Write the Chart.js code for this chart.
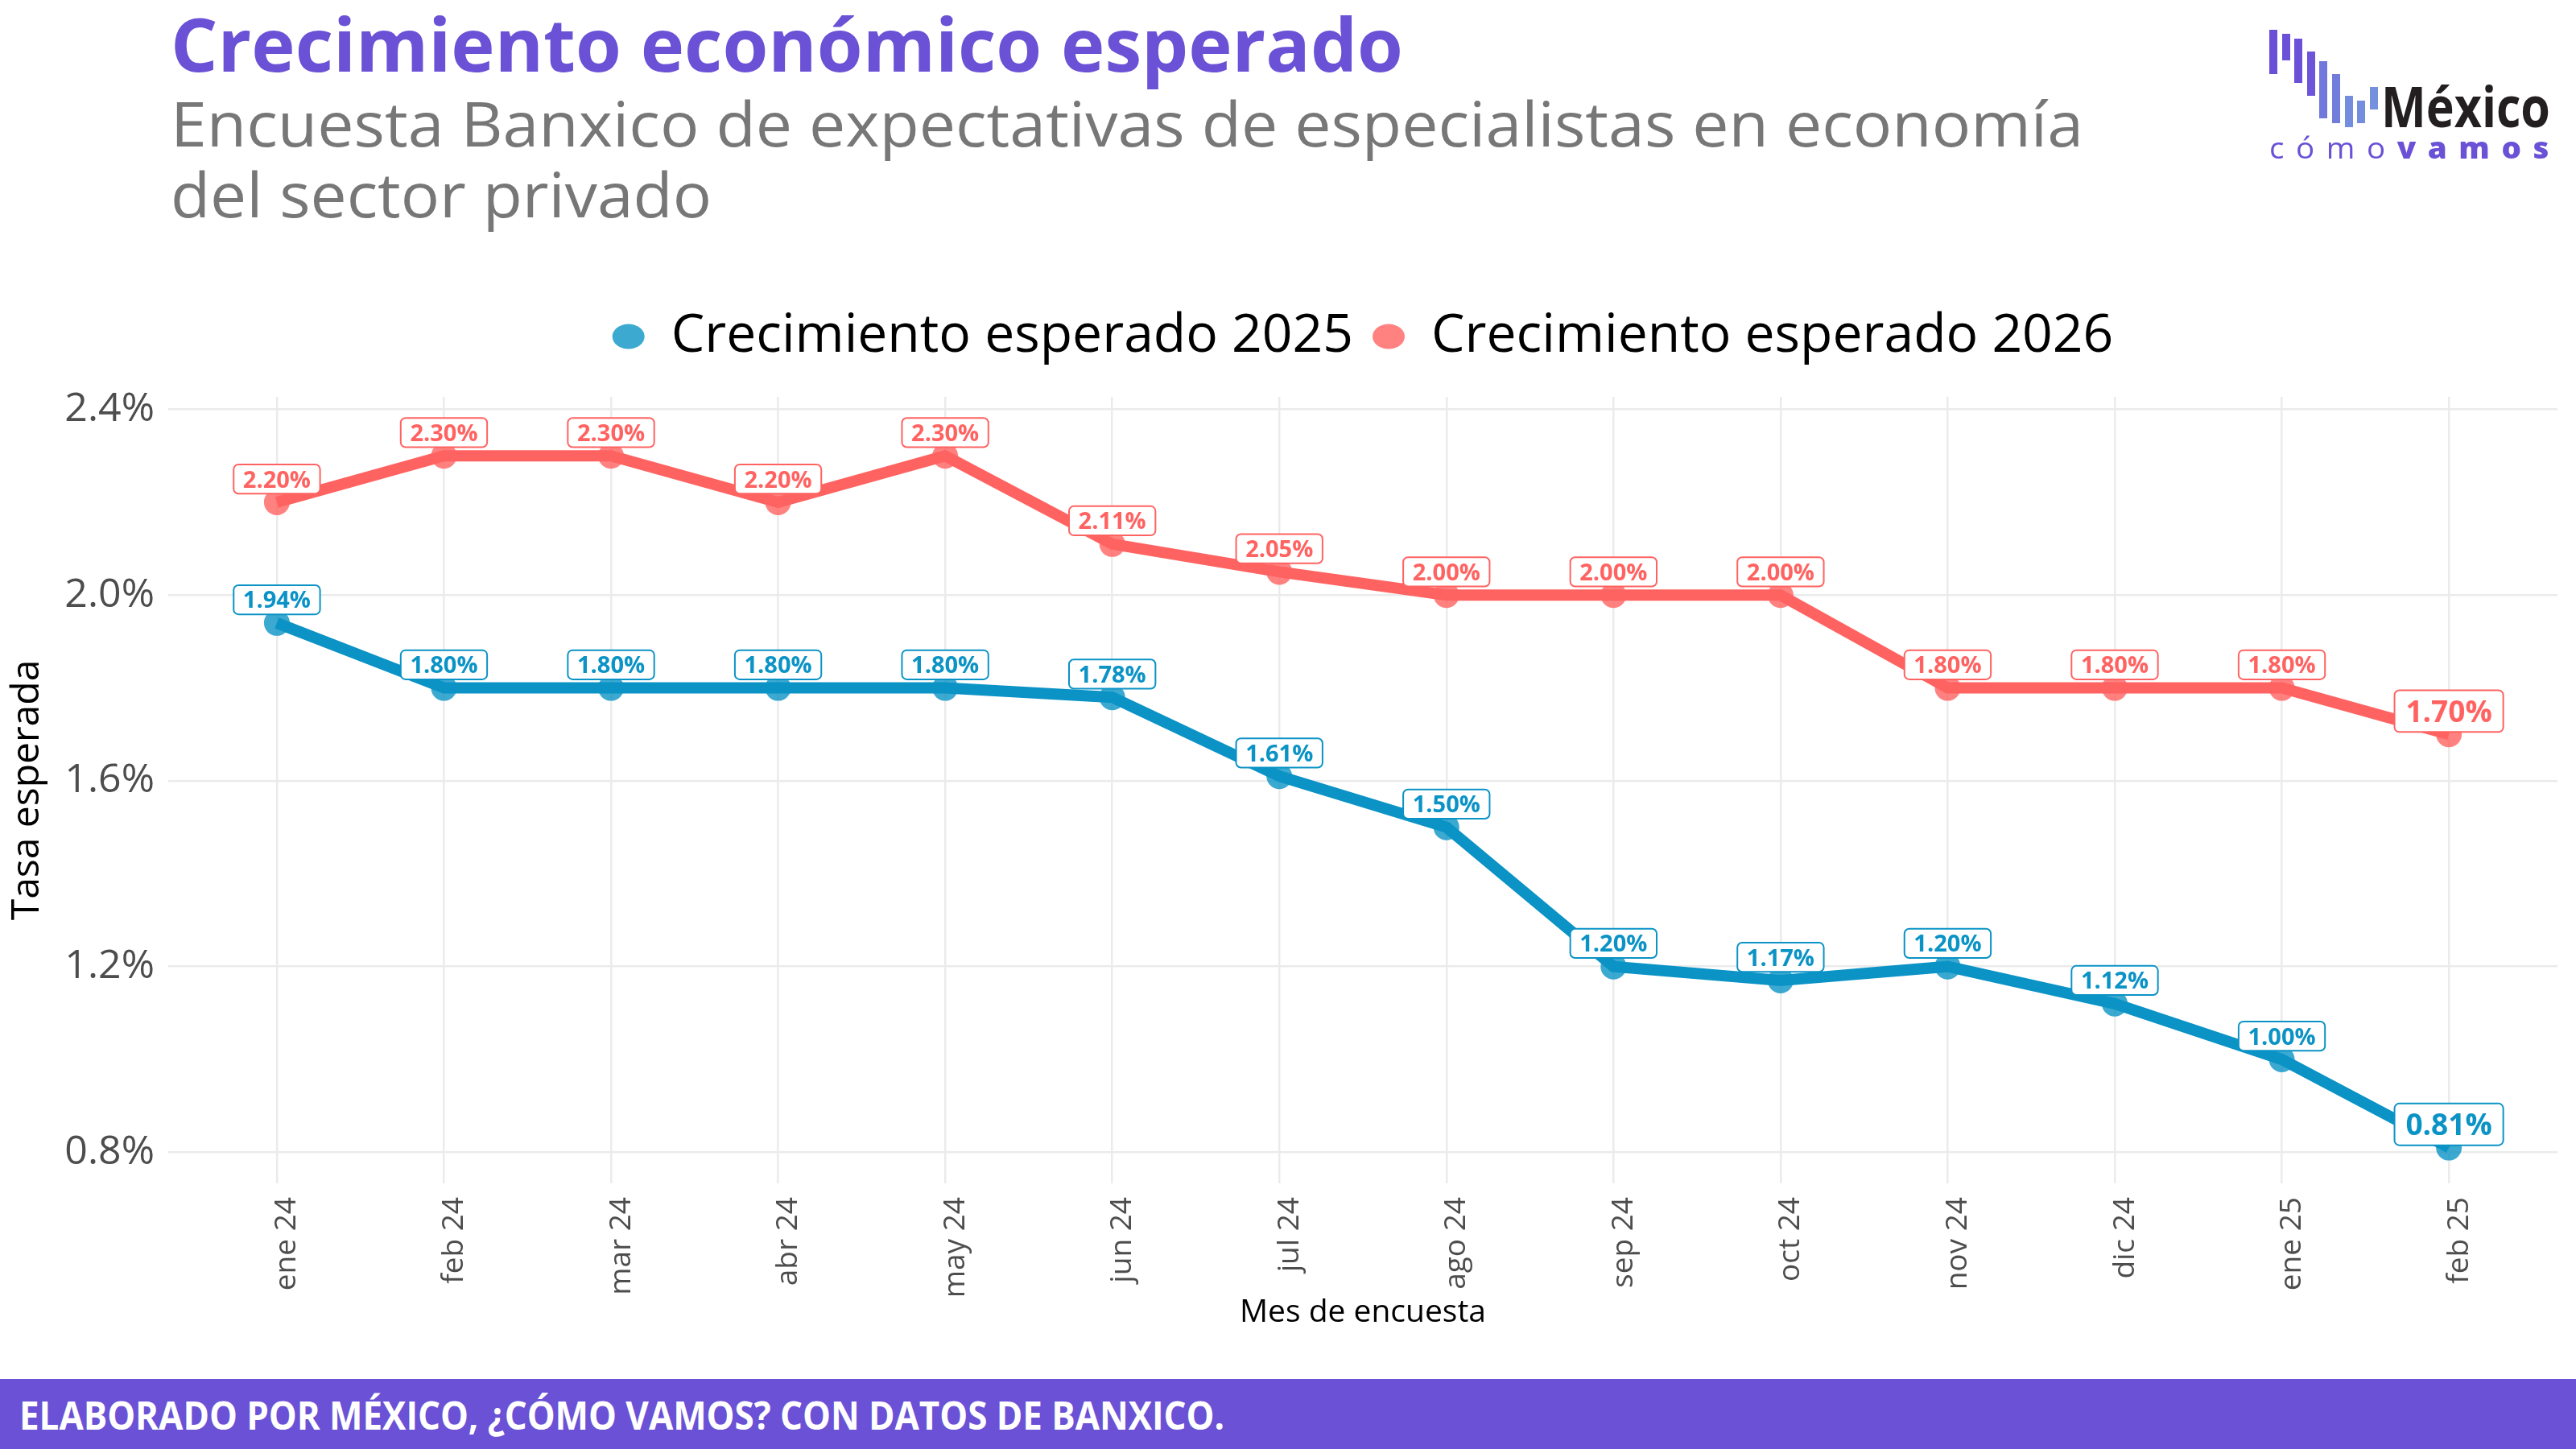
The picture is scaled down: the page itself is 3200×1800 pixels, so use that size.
<!DOCTYPE html>
<html>
<head>
<meta charset="utf-8">
<script src="https://cdn.jsdelivr.net/npm/chart.js@4.4.0/dist/chart.umd.min.js"></script>
<style>
    html, body { margin: 0; padding: 0; background: #fff; }
    body { width: 3200px; height: 1800px; position: relative; overflow: hidden; font-family: "Open Sans", sans-serif; }
    .fit { position: absolute; white-space: nowrap; transform-origin: 0 0; line-height: 1; }
    #title { left: 212px; top: 8px; font-size: 92px; font-weight: 700; color: #6a51d6; }
    #sub1 { left: 212px; top: 114px; font-size: 77px; color: #777777; }
    #sub2 { left: 212px; top: 202px; font-size: 77px; color: #777777; }
    #chartBox { position: absolute; left: 0; top: 0; width: 3200px; height: 1711px; }
    #footer { position: absolute; left: 0; top: 1713px; width: 3200px; height: 87px; background: #6a51d6; }
    #footText { left: 24px; top: 1734px; font-size: 48px; font-weight: 700; color: #fff; }
    .bar { position: absolute; width: 10px; }
    #logoMx { left: 2958px; top: 96px; font-size: 70px; font-weight: 700; color: #231f20; }
    #logoCv { left: 2819px; top: 164px; font-size: 37px; color: #6a51d6; letter-spacing: 14px; }
    #logoCv b { font-weight: 800; }
</style>
</head>
<body>
<div id="chartBox"><canvas id="growthChart"></canvas></div>

<div id="title" class="fit" data-w="1531">Crecimiento económico esperado</div>
<div id="sub1" class="fit" data-w="2376">Encuesta Banxico de expectativas de especialistas en economía</div>
<div id="sub2" class="fit" data-w="672">del sector privado</div>

<div id="logo"></div>
<div id="logoMx" class="fit" data-w="210">México</div>
<div id="logoCv" class="fit" data-w="362">cómo<b>vamos</b></div>

<div id="footer"></div>
<div id="footText" class="fit" data-w="1497">ELABORADO POR MÉXICO, ¿CÓMO VAMOS? CON DATOS DE BANXICO.</div>

<script>
// survey months and expected growth (%)
const months = ['ene 24', 'feb 24', 'mar 24', 'abr 24', 'may 24', 'jun 24', 'jul 24',
                'ago 24', 'sep 24', 'oct 24', 'nov 24', 'dic 24', 'ene 25', 'feb 25'];
const growth2025 = [1.94, 1.80, 1.80, 1.80, 1.80, 1.78, 1.61, 1.50, 1.20, 1.17, 1.20, 1.12, 1.00, 0.81];
const growth2026 = [2.20, 2.30, 2.30, 2.20, 2.30, 2.11, 2.05, 2.00, 2.00, 2.00, 1.80, 1.80, 1.80, 1.70];
const seriesNames = ['Crecimiento esperado 2025', 'Crecimiento esperado 2026'];
const yTicks = [0.8, 1.2, 1.6, 2.0, 2.4];

const BLUE = '#0b93c6';
const RED = '#ff6361';
const FONT = '"Open Sans", sans-serif';

// logo bars: left, top, bottom
const logoBars = [[2819, 37, 92], [2835, 42, 75], [2850, 48, 103], [2866, 64, 119], [2881, 76, 147],
                  [2897, 92, 153], [2913, 119, 158], [2928, 125, 153], [2944, 108, 136]];
const logoColors = ['#6a4fd8', '#6b50d8', '#6b51d8', '#6d55d9', '#7078db', '#717cdb', '#748ddd', '#748ddd', '#7490de'];
const logo = document.getElementById('logo');
logoBars.forEach((b, i) => {
    const d = document.createElement('div');
    d.className = 'bar';
    d.style.left = b[0] + 'px';
    d.style.top = b[1] + 'px';
    d.style.height = (b[2] - b[1]) + 'px';
    d.style.background = logoColors[i];
    logo.appendChild(d);
});

// squeeze the header/footer texts to the widths of the original (narrower typeface there)
document.querySelectorAll('.fit').forEach(el => {
    const w = el.getBoundingClientRect().width;
    el.style.transform = 'scaleX(' + (+el.dataset.w / w) + ')';
});

// legend: fixed height, centred over the plot panel
const legendPlace = {
    id: 'legendPlace',
    beforeUpdate(chart) {
        const lg = chart.legend;
        if (lg && !lg._patched) {
            const fit = lg.fit;
            lg.fit = function () { fit.call(this); this.height = 132; };
            lg._patched = true;
        }
    },
    afterLayout(chart) {
        const lg = chart.legend;
        const shift = (chart.chartArea.left + chart.chartArea.right) / 2 - (lg.left + lg.right) / 2;
        lg.left += shift;
        lg.right += shift;
    }
};

// boxed value labels above each point (last month bigger)
const valueLabels = {
    id: 'valueLabels',
    afterDatasetsDraw(chart) {
        const ctx = chart.ctx;
        const y = chart.scales.y;
        chart.data.datasets.forEach((ds, di) => {
            const meta = chart.getDatasetMeta(di);
            meta.data.forEach((pt, i) => {
                const v = ds.data[i].y;
                const last = i === ds.data.length - 1;
                const size = last ? 37 : 29;
                const text = v.toFixed(2) + '%';
                ctx.save();
                ctx.font = '700 ' + size + 'px ' + FONT;
                const tw = ctx.measureText(text).width;
                const w = tw + size * (last ? 0.75 : 0.8);
                const h = size * (last ? 1.4 : 1.25);
                const cx = pt.x;
                const cy = y.getPixelForValue(v + 0.05);
                ctx.beginPath();
                ctx.roundRect(cx - w / 2, cy - h / 2, w, h, 6);
                ctx.fillStyle = '#ffffff';
                ctx.fill();
                ctx.lineWidth = 2;
                ctx.strokeStyle = ds.borderColor;
                ctx.stroke();
                ctx.fillStyle = ds.borderColor;
                ctx.textAlign = 'center';
                ctx.textBaseline = 'alphabetic';
                ctx.fillText(text, cx, cy + size * 0.36);
                ctx.restore();
            });
        });
    }
};

const ctx = document.getElementById('growthChart').getContext('2d');
const chart = new Chart(ctx, {
    type: 'line',
    data: {
        datasets: [
            {
                label: seriesNames[0],
                data: growth2025.map((v, i) => ({ x: i, y: v })),
                borderColor: BLUE,
                backgroundColor: BLUE,
                borderWidth: 14,
                pointRadius: 16,
                pointBorderWidth: 0,
                pointBackgroundColor: 'rgba(11,147,198,0.8)',
                tension: 0
            },
            {
                label: seriesNames[1],
                data: growth2026.map((v, i) => ({ x: i, y: v })),
                borderColor: RED,
                backgroundColor: RED,
                borderWidth: 14,
                pointRadius: 16,
                pointBorderWidth: 0,
                pointBackgroundColor: 'rgba(255,99,97,0.8)',
                tension: 0
            }
        ]
    },
    options: {
        responsive: true,
        maintainAspectRatio: false,
        animation: false,
        layout: { padding: { top: 361, right: 23, left: 0, bottom: 0 } },
        plugins: {
            legend: {
                position: 'top',
                labels: {
                    font: { size: 66, family: FONT },
                    color: '#000',
                    usePointStyle: true,
                    pointStyle: 'circle',
                    pointStyleWidth: 40,
                    boxHeight: 22,
                    padding: 24
                }
            },
            tooltip: { enabled: false }
        },
        scales: {
            x: {
                type: 'linear',
                min: -0.65,
                max: 13.65,
                afterBuildTicks: s => { s.ticks = months.map((m, i) => ({ value: i })); },
                afterFit: s => { s.height = 241; },
                ticks: {
                    callback: v => months[v],
                    autoSkip: false,
                    minRotation: 90,
                    maxRotation: 90,
                    labelOffset: 13,
                    font: { size: 37, family: FONT },
                    color: '#4d4d4d',
                    padding: 17
                },
                grid: { color: '#ebebeb', lineWidth: 2.5, drawTicks: false },
                border: { display: false },
                title: {
                    display: true,
                    text: 'Mes de encuesta',
                    font: { size: 39, family: FONT },
                    color: '#000',
                    padding: { top: 0, bottom: 57 }
                }
            },
            y: {
                min: 0.733,
                max: 2.427,
                afterBuildTicks: s => { s.ticks = yTicks.map(v => ({ value: v })); },
                afterFit: s => { s.width = 209; },
                ticks: {
                    callback: v => v.toFixed(1) + '%',
                    font: { size: 50, family: FONT },
                    color: '#4d4d4d',
                    padding: 17
                },
                grid: { color: '#ebebeb', lineWidth: 2.5, drawTicks: false },
                border: { display: false },
                title: {
                    display: true,
                    text: 'Tasa esperada',
                    font: { size: 48, family: FONT },
                    color: '#000',
                    padding: { top: 6, bottom: 0 }
                }
            }
        }
    },
    plugins: [legendPlace, valueLabels]
});
</script>
</body>
</html>
